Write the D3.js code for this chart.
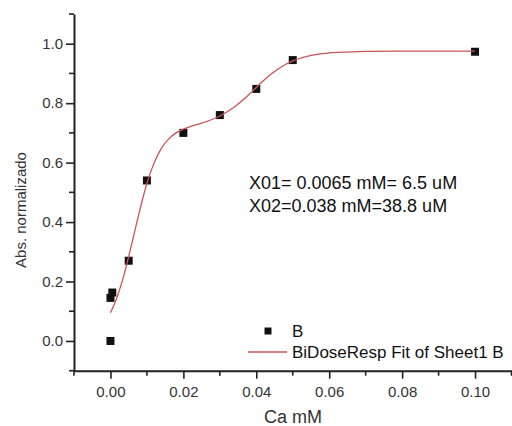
<!DOCTYPE html>
<html>
<head>
<meta charset="utf-8">
<script src="https://cdn.jsdelivr.net/npm/d3@7"></script>
<style>
  body { margin: 0; background: #fff; }
  svg { display: block; font-family: "Liberation Sans", Arial, sans-serif; }
</style>
</head>
<body>
<svg id="chart" width="512" height="426"></svg>
<script>
// measured points (Ca mM vs normalized absorbance)
const caX = [0, 0, 0.0005, 0.005, 0.01, 0.02, 0.03, 0.04, 0.05, 0.1];
const absY = [0.0, 0.145, 0.163, 0.27, 0.54, 0.70, 0.76, 0.848, 0.945, 0.973];

// fit curve
const fitX = [0, 0.001, 0.002, 0.003, 0.004, 0.005, 0.006, 0.007, 0.008, 0.009, 0.010,
  0.012, 0.014, 0.016, 0.018, 0.020, 0.022, 0.025, 0.028, 0.030, 0.032, 0.034, 0.036,
  0.038, 0.040, 0.042, 0.044, 0.046, 0.048, 0.050, 0.055, 0.060, 0.065, 0.070, 0.080,
  0.090, 0.100];
const fitY = [0.095, 0.122, 0.154, 0.192, 0.235, 0.284, 0.335, 0.387, 0.438, 0.486, 0.530,
  0.600, 0.649, 0.680, 0.700, 0.713, 0.722, 0.733, 0.746, 0.757, 0.771, 0.787, 0.807,
  0.829, 0.853, 0.876, 0.897, 0.915, 0.930, 0.942, 0.961, 0.969, 0.972, 0.974, 0.975,
  0.975, 0.975];

const xTicks = [0, 0.02, 0.04, 0.06, 0.08, 0.10];
const xMinor = [-0.01, 0.01, 0.03, 0.05, 0.07, 0.09, 0.11];
const yTicks = [0, 0.2, 0.4, 0.6, 0.8, 1.0];
const yMinor = [-0.1, 0.1, 0.3, 0.5, 0.7, 0.9, 1.1];

const notes = ["X01= 0.0065 mM= 6.5 uM", "X02=0.038 mM=38.8 uM"];

const svg = d3.select("#chart");
const x = d3.scaleLinear().domain([-0.01, 0.11]).range([74, 511.5]);
const y = d3.scaleLinear().domain([-0.1, 1.1]).range([370.7, 14]);
const axisColor = "#222";
const fitColor = "#c8545a";

// X axis
const gx = svg.append("g").attr("transform", `translate(0,${y(-0.1)})`);
gx.call(d3.axisBottom(x).tickValues(xTicks).tickSize(8).tickSizeOuter(0)
  .tickFormat(d3.format(".2f")));
gx.append("g").selectAll("line").data(xMinor).enter().append("line")
  .attr("x1", d => x(d)).attr("x2", d => x(d))
  .attr("y1", 0).attr("y2", 5);

// Y axis
const gy = svg.append("g").attr("transform", `translate(${x(-0.01)},0)`);
gy.call(d3.axisLeft(y).tickValues(yTicks).tickSize(8).tickSizeOuter(0)
  .tickFormat(d3.format(".1f")));
gy.append("g").selectAll("line").data(yMinor).enter().append("line")
  .attr("y1", d => y(d)).attr("y2", d => y(d))
  .attr("x1", 0).attr("x2", -5);

[gx, gy].forEach(g => {
  g.selectAll("path.domain").attr("stroke", axisColor).attr("stroke-width", 2);
  g.selectAll("line").attr("stroke", axisColor).attr("stroke-width", 1.6);
  g.selectAll("text").attr("fill", "#333").style("font-size", "15px");
});
gx.selectAll(".tick text").attr("dy", "1.05em");
gy.selectAll(".tick text").attr("x", -11);

// axis titles
svg.append("text")
  .attr("x", 293).attr("y", 423)
  .attr("text-anchor", "middle")
  .style("font-size", "18px").attr("fill", "#333")
  .text("Ca mM");

svg.append("text")
  .attr("transform", "rotate(-90)")
  .attr("x", -210).attr("y", 26)
  .attr("text-anchor", "middle")
  .style("font-size", "15px").attr("fill", "#333")
  .text("Abs. normalizado");

// data points
const pts = caX.map((d, i) => [d, absY[i]]);
svg.append("g").selectAll("rect").data(pts).enter().append("rect")
  .attr("x", d => x(d[0]) - 4).attr("y", d => y(d[1]) - 4)
  .attr("width", 8).attr("height", 8)
  .attr("fill", "#111");

// fit curve
const fit = fitX.map((d, i) => [d, fitY[i]]);
svg.append("path")
  .datum(fit)
  .attr("fill", "none")
  .attr("stroke", fitColor)
  .attr("stroke-width", 1.3)
  .attr("d", d3.line().x(d => x(d[0])).y(d => y(d[1])).curve(d3.curveMonotoneX));

// annotation
svg.append("g").selectAll("text").data(notes).enter().append("text")
  .attr("x", 249).attr("y", (d, i) => 189 + i * 23)
  .style("font-size", "18px").attr("fill", "#111")
  .text(d => d);

// legend
svg.append("rect").attr("x", 264.5).attr("y", 327.5).attr("width", 7).attr("height", 7).attr("fill", "#111");
svg.append("text").attr("x", 292).attr("y", 337).style("font-size", "17px").attr("fill", "#111").text("B");
svg.append("line").attr("x1", 248).attr("x2", 287).attr("y1", 352).attr("y2", 352)
  .attr("stroke", fitColor).attr("stroke-width", 1.3);
svg.append("text").attr("x", 292).attr("y", 358).style("font-size", "17px").attr("fill", "#111")
  .text("BiDoseResp Fit of Sheet1 B");
</script>
</body>
</html>
